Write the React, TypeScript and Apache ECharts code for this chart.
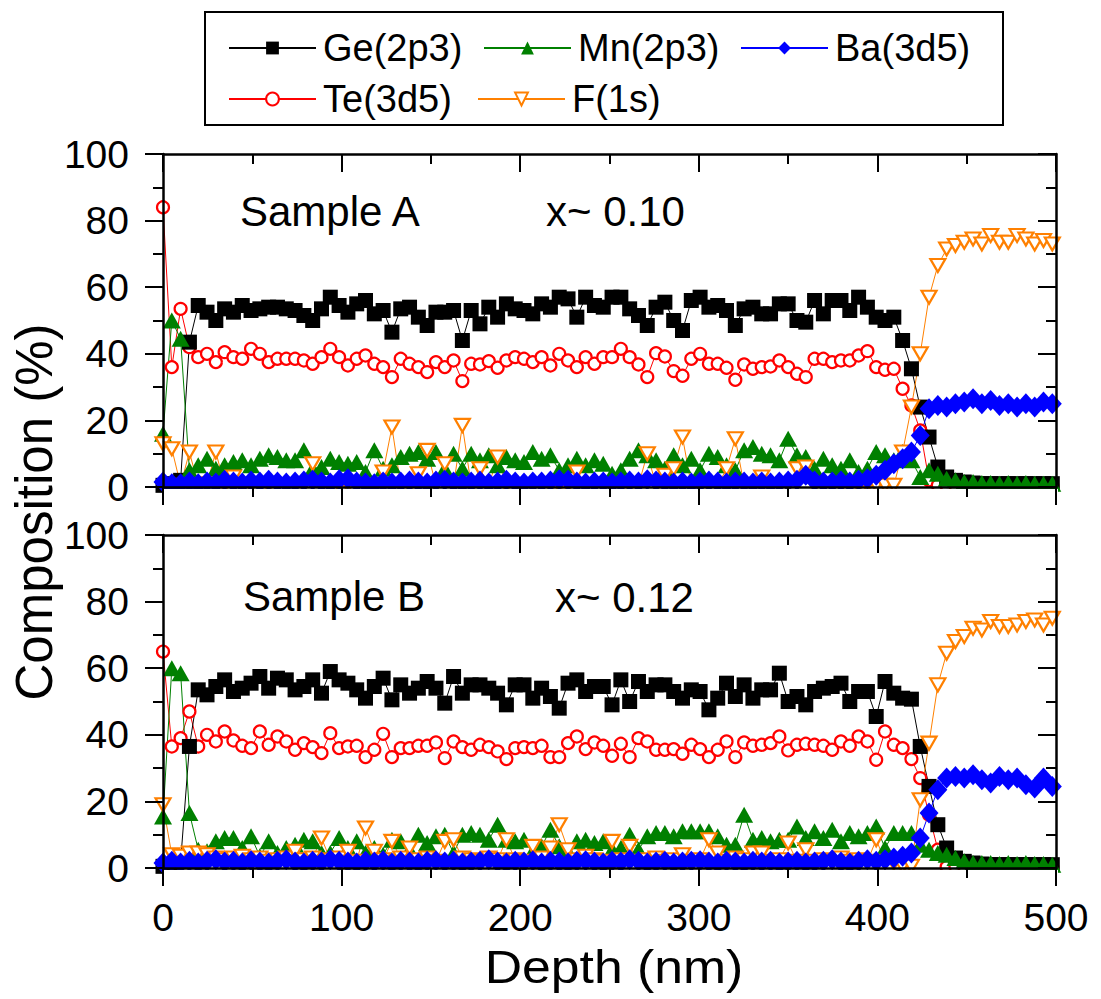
import React, { useEffect, useRef } from "react";
import * as echarts from "echarts";

const FONT = "'Liberation Sans', Arial, sans-serif";

// depth grid (nm): 102 sputter steps of ~4.93 nm
const DEPTH_STEP = 4.93;
const N_POINTS = 102;
const depth: number[] = Array.from({ length: N_POINTS }, (_, i) => +(i * DEPTH_STEP).toFixed(2));

const xTicks = [0, 100, 200, 300, 400, 500];
const yTicks = [0, 20, 40, 60, 80, 100];

const seriesNames = ["Ge(2p3)", "Mn(2p3)", "Ba(3d5)", "Te(3d5)", "F(1s)"];
// drawing order (later = on top): Te, Ge, Mn, F, Ba
const drawOrder = [3, 0, 1, 4, 2];

// ---------- Sample A (x ~ 0.10) ----------
const GE_A = [0.5, 1, 2, 43.5, 54.5, 52.5, 50, 53.5, 52.5, 54.5,
  53, 53.5, 54, 54, 53.5, 53, 51.5, 50, 53.5, 57,
  54.5, 52.5, 55, 56, 52, 53, 46.5, 53.5, 54, 51,
  48.5, 52.5, 52.5, 53, 44, 53, 49, 54, 51, 55,
  53.5, 53, 52, 55, 54, 57, 56.5, 51, 57, 54.5,
  54, 57, 57, 53.5, 51.5, 48.5, 54, 55.5, 50, 47,
  56, 57, 54, 54.5, 53, 48.5, 53.5, 54, 52, 52,
  55, 55, 50, 49.5, 56, 52, 56, 56, 53, 57,
  54, 51, 50, 51, 44, 35.5, 24, 15, 6, 3,
  2, 1.5, 1.2, 1, 1, 1, 1, 1, 1, 1,
  1, 1];
const MN_A = [16, 50, 44.5, 5, 6.5, 8.5, 5.5, 6.5, 7.5, 8,
  6.5, 8.5, 9.5, 9, 8, 8, 11, 5.5, 6, 8.5,
  7.5, 7, 7.5, 4.5, 11, 5.5, 6.5, 9, 10, 10.5,
  8.5, 10.5, 5.5, 10, 5.5, 10, 8, 9.5, 6.5, 9,
  8, 7.5, 10.5, 8.5, 9.5, 5, 6.5, 8.5, 6.5, 8,
  7, 4, 5, 8.5, 11, 9.5, 8, 5.5, 9.5, 6.5,
  8.5, 5, 10, 9, 6.5, 5, 11, 12, 10, 9.5,
  8, 14.5, 9.5, 9, 5.5, 8.5, 6.5, 5.5, 8, 4.5,
  5.5, 10.5, 9.5, 8, 10.5, 8, 3, 5, 4, 2.5,
  2, 1.5, 1.5, 1.2, 1.2, 1, 1.2, 1, 1.2, 1,
  1, 1];
const BA_A = [1.5, 1, 1, 1.5, 1, 1.5, 1.2, 2, 1.5, 1.2,
  1.8, 1.5, 2, 1.5, 1.2, 1.5, 1.8, 2, 1.5, 1.2,
  2.2, 2.5, 1.5, 1.2, 1, 1.5, 1.2, 1.5, 1.8, 1.5,
  1.2, 1.8, 2, 1.5, 1.2, 1.5, 1.8, 1.2, 1.5, 2,
  1.5, 1.2, 1.5, 1.5, 1.8, 2.2, 2, 1.5, 1.2, 1.5,
  1.5, 1.2, 1.5, 1.8, 1.5, 2.2, 1.8, 1.5, 1.2, 1.5,
  1.2, 1.5, 1.8, 1.5, 1.2, 1.5, 1.5, 1.2, 1.5, 1.2,
  1.5, 1.8, 2, 3.5, 1.8, 1.5, 1.5, 1.8, 1.5, 2,
  2.5, 3.5, 5, 7, 8.5, 10.5, 15.5, 23.5, 24.5, 24,
  25, 25.5, 26.5, 25, 26, 24.5, 25, 24, 25, 24,
  25.5, 25];
const TE_A = [84, 36, 53.5, 42, 39, 40, 37.5, 40.5, 39, 38.5,
  41.5, 40, 37.5, 38.5, 38.5, 38.5, 38, 37, 39, 41.5,
  39, 36.5, 38.5, 39.5, 37, 36, 33, 38.5, 37, 36,
  34.5, 37.5, 36, 38, 31.8, 37, 36.8, 37.8, 35.8, 38,
  39, 38.5, 37.5, 39, 36.5, 40, 38, 36, 39, 37,
  39, 39, 41.5, 39, 36.8, 33, 40.2, 39.2, 34.8, 33.4,
  38.5, 40, 37, 37, 35.8, 32.2, 36.8, 35.5, 36, 36.2,
  38, 36, 34, 33, 38.5, 38.5, 37.5, 38, 38, 39.5,
  40.8, 36, 35.2, 35.5, 29.5, 24.5, 17, 2, 0.5, 0.3,
  0.3, 0.3, 0.3, 0.3, 0.3, 0.3, 0.3, 0.3, 0.3, 0.3,
  0.3, 0.3];
const F_A = [13, 11.5, 0.5, 10.5, 0.5, 1, 10.5, 0.5, 3, 0.5,
  0.5, 0.5, 0.5, 0.5, 0.5, 0.5, 0.5, 7, 0.5, 0.5,
  0.5, 0.5, 0.5, 0.5, 0.5, 4.5, 18, 0.5, 0.5, 4,
  11, 0.5, 7, 0.5, 18.5, 0.5, 5.5, 0.5, 9, 0.5,
  0.5, 0.5, 0.5, 0.5, 0.5, 0.5, 0.5, 4.5, 0.5, 0.5,
  0.5, 0.5, 0.5, 0.5, 0.5, 10, 0.5, 3.5, 5.5, 15,
  0.5, 0.5, 0.5, 0.5, 5.5, 14.5, 0.5, 0.5, 3, 0.5,
  0.5, 0.5, 5.5, 6, 0.5, 0.5, 0.5, 0.5, 0.5, 0.5,
  0.5, 0.5, 0.5, 0.5, 10.5, 24, 40, 57, 66.5, 71.5,
  72.5, 73.5, 74.5, 73, 75.5, 73.5, 73.5, 75.5, 74.5, 73,
  74, 73];

// ---------- Sample B (x ~ 0.12) ----------
const GE_B = [0.5, 1, 2, 36.5, 53.5, 52, 54.5, 56.5, 53, 54,
  55.5, 57.5, 54, 57, 56.5, 53.5, 54.5, 56.5, 52.5, 59,
  56.5, 55.5, 53.5, 51, 54.5, 57, 50.5, 55, 52.5, 54,
  56, 54, 49.5, 57.5, 52.5, 55, 55, 54, 52.5, 49,
  55, 55, 51, 54, 51.5, 48, 55.5, 56.5, 53, 54.5,
  54.5, 49, 56.5, 50, 56, 53, 55, 55, 53, 51,
  53.5, 53, 47.5, 51, 55.5, 51.5, 55, 51, 53.5, 53.5,
  58.5, 50, 51.5, 49, 53, 54, 54.5, 55.5, 50, 53,
  53, 45.5, 56, 52.5, 51, 50.7, 36.5, 24.5, 13, 6,
  3, 2, 1.5, 1.2, 1, 1, 1, 1, 1, 1,
  1, 1];
const MN_B = [15.5, 60, 58.5, 16.5, 5.5, 5, 8, 9, 9, 6,
  9.5, 3.5, 8, 4.5, 6, 7, 8.5, 8, 4.5, 4.5,
  9, 6, 8, 4.5, 6, 4, 8.5, 8, 5.5, 10,
  7.5, 9.5, 10, 4.5, 10, 10.5, 10, 8.5, 13, 8.5,
  8, 8.5, 5, 6.5, 11.5, 6.5, 5, 8, 8.5, 7.5,
  8, 5.5, 6, 10, 5.5, 9.5, 10.5, 10.5, 9.5, 11,
  11, 11, 11, 9.5, 7, 7, 16, 8.5, 9, 8,
  8.5, 8.5, 12.5, 9, 11, 9, 11.5, 8, 10.5, 9.5,
  10.5, 12.5, 6, 10.5, 10.5, 10.5, 7, 5.5, 4.5, 4,
  3, 2, 1.5, 1.5, 1.5, 1.2, 1.5, 1.2, 1.5, 1.2,
  1.2, 1];
const BA_B = [1.5, 2, 1.5, 2, 1.5, 2, 2.5, 1.8, 2, 1.5,
  2.2, 1.8, 1.5, 2, 2.5, 1.8, 1.5, 2, 1.8, 2.5,
  2, 1.8, 1.5, 2, 1.8, 2.2, 1.5, 2, 1.8, 1.5,
  2, 2.2, 1.8, 2, 1.5, 1.8, 2, 2.5, 1.8, 1.5,
  2, 1.8, 2.2, 1.5, 2, 1.8, 1.5, 2, 2.2, 1.8,
  1.5, 2, 1.8, 2.5, 2, 1.5, 1.8, 2, 1.5, 1.8,
  2, 2.2, 1.8, 1.5, 2, 1.8, 1.5, 2, 1.8, 2,
  1.5, 1.8, 2, 1.5, 1.8, 2, 2.5, 1.8, 1.5, 2,
  2.5, 2, 2.5, 3, 3.5, 4.5, 9, 16.5, 23.5, 27,
  27.5, 27, 28, 26.5, 25.5, 27.5, 26.5, 27, 25, 24,
  27, 24.5];
const TE_B = [65, 36.5, 39, 47, 36.5, 40, 38, 41, 38.3, 36.7,
  36, 41, 37, 39.5, 38, 35.5, 37.5, 36.3, 34.5, 40.5,
  36, 36.5, 36.7, 33.3, 35.5, 40.3, 33.3, 36, 36, 36.7,
  36.7, 37.7, 33, 38, 36.3, 35.5, 37, 36.3, 35, 32.7,
  36, 36.3, 36, 36.7, 33.3, 33.3, 37.5, 39.5, 35.7, 37.7,
  36.7, 33.7, 37.3, 33.3, 39, 38, 35.5, 35.5, 35.7, 34.3,
  37, 35.7, 33.3, 35.5, 38, 33.3, 37.7, 36.7, 37, 37.5,
  39.5, 35.3, 37, 37.3, 37, 36.7, 35.5, 38, 36.7, 39.5,
  38, 32.5, 41, 37, 36, 32.7, 27, 16, 5.5, 0.3,
  0.3, 0.3, 0.3, 0.3, 0.3, 0.3, 0.3, 0.3, 0.3, 0.3,
  0.3, 0.3];
const F_B = [19, 4, 3.5, 4.5, 4.5, 4, 3, 2.5, 3, 3.5,
  2.5, 3, 2, 2.5, 3, 5, 2.5, 3, 9, 2.5,
  3, 5, 2, 12, 5, 2.5, 8, 3, 6, 2.5,
  3, 2, 8, 8.5, 3, 2.5, 2, 3, 2.5, 8.5,
  2.5, 2, 6.5, 3, 6, 13, 5.5, 2.5, 3.5, 2.5,
  2, 8, 2.5, 6.5, 2, 2.5, 3, 2, 2.5, 4,
  2, 2.5, 8.5, 4.5, 2, 3, 2.5, 4.5, 4.5, 2,
  2.5, 7.5, 2, 5.5, 2, 2.5, 2, 3, 2, 2.5,
  2, 8.5, 2, 1.5, 0.5, 0.5, 20.5, 37.5, 55, 64.5,
  68, 69.5, 72, 71.5, 74, 72.5, 72.5, 73, 74, 74.5,
  73, 75];

const panelA = [GE_A, MN_A, BA_A, TE_A, F_A];
const panelB = [GE_B, MN_B, BA_B, TE_B, F_B];
const panelLabels = [["Sample A", "x~ 0.10"], ["Sample B", "x~ 0.12"]];

// ---------- styles ----------
const DOWN_TRI = "path://M0,0 L20,0 L10,17 Z";
const styles = [
  { color: "#000000", symbol: "rect", size: 15, item: { color: "#000000" } },
  { color: "#008000", symbol: "triangle", size: [18, 16], item: { color: "#008000" } },
  { color: "#0000ff", symbol: "diamond", size: [19, 21], item: { color: "#0000ff" } },
  { color: "#ff0000", symbol: "circle", size: 12, item: { color: "#ffffff", borderColor: "#ff0000", borderWidth: 2.2 } },
  { color: "#ff8000", symbol: DOWN_TRI, size: [15, 13], item: { color: "#ffffff", borderColor: "#ff8000", borderWidth: 2.2 } },
];

const GRID_LEFT = 163;
const GRID_W = 893;
const GRID_H = 333;
const GRID_TOPS = [154, 535];

const AX_W = 2.5;
const TICK_W = 2;

function xAxisDef(g: number, pos: "bottom" | "top") {
  const outer = pos === "bottom";
  return {
    type: "value",
    gridIndex: g,
    position: pos,
    min: xTicks[0],
    max: xTicks[xTicks.length - 1],
    interval: 100,
    z: 10,
    axisLine: { show: true, onZero: false, lineStyle: { color: "#000", width: AX_W } },
    axisTick: { show: true, inside: !outer, length: 18, lineStyle: { color: "#000", width: TICK_W } },
    minorTick: { show: true, splitNumber: 2, length: 10, lineStyle: { color: "#000", width: TICK_W } },
    splitLine: { show: false },
    minorSplitLine: { show: false },
    axisLabel: {
      show: outer && g === 1,
      fontSize: 39,
      fontFamily: FONT,
      color: "#000",
      margin: 30,
    },
  };
}

function yAxisDef(g: number, pos: "left" | "right") {
  const outer = pos === "left";
  return {
    type: "value",
    gridIndex: g,
    position: pos,
    min: yTicks[0],
    max: yTicks[yTicks.length - 1],
    interval: 20,
    z: 10,
    axisLine: { show: true, onZero: false, lineStyle: { color: "#000", width: AX_W } },
    axisTick: { show: true, inside: !outer, length: 18, lineStyle: { color: "#000", width: TICK_W } },
    minorTick: { show: true, splitNumber: 2, length: 10, lineStyle: { color: "#000", width: TICK_W } },
    splitLine: { show: false },
    minorSplitLine: { show: false },
    axisLabel: { show: outer, fontSize: 39, fontFamily: FONT, color: "#000", margin: 34 },
  };
}

export default function App() {
  const ref = useRef<HTMLDivElement>(null);

  useEffect(() => {
    if (!ref.current) return;
    const chart = echarts.init(ref.current, undefined, { renderer: "svg" });

    const series: any[] = [];
    [panelA, panelB].forEach((panel, g) => {
      drawOrder.forEach((k) => {
        const vals = panel[k];
        const st = styles[k];
        series.push({
          type: "line",
          name: seriesNames[k],
          xAxisIndex: g * 2,
          yAxisIndex: g * 2,
          data: depth.map((d, i) => [d, vals[i]]),
          symbol: st.symbol,
          symbolSize: st.size,
          showAllSymbol: true,
          itemStyle: st.item,
          lineStyle: { color: st.color, width: 1 },
          silent: true,
          emphasis: { disabled: true },
        });
      });
    });

    const legendPos = [
      { name: seriesNames[0], left: 228, top: 29 },
      { name: seriesNames[1], left: 483, top: 29 },
      { name: seriesNames[2], left: 740, top: 29 },
      { name: seriesNames[3], left: 228, top: 80 },
      { name: seriesNames[4], left: 477, top: 80 },
    ];

    const legends = legendPos.map((l) => ({
      data: [l.name],
      left: l.left,
      top: l.top,
      orient: "horizontal",
      padding: 0,
      itemWidth: 87,
      itemHeight: 16,
      itemGap: 0,
      selectedMode: false,
      textStyle: { fontSize: 38, fontFamily: FONT, color: "#000", padding: [0, 0, 0, 2] },
    }));

    const graphics: any[] = [
      // white covers to clip markers overflowing below panel frames
      { type: "rect", z: 5, silent: true, shape: { x: 164, y: 489, width: 894, height: 44 }, style: { fill: "#fff" } },
      { type: "rect", z: 5, silent: true, shape: { x: 164, y: 870, width: 894, height: 28 }, style: { fill: "#fff" } },
      // legend frame
      { type: "rect", z: 6, silent: true, shape: { x: 205, y: 12, width: 798, height: 113 }, style: { fill: "none", stroke: "#000", lineWidth: 2 } },
      // axis titles
      {
        type: "text", z: 6, x: 614, y: 966, scaleX: 1.1,
        style: { text: "Depth (nm)", fontSize: 47, fontFamily: FONT, fill: "#000", align: "center", verticalAlign: "middle" },
      },
      {
        type: "text", z: 6, x: 34, y: 512, rotation: Math.PI / 2,
        style: { text: "Composition (%)", fontSize: 51, fontFamily: FONT, fill: "#000", align: "center", verticalAlign: "middle" },
      },
      // panel annotations
      { type: "text", z: 6, x: 240, y: 211, style: { text: panelLabels[0][0], fontSize: 42, fontFamily: FONT, fill: "#000", align: "left", verticalAlign: "middle" } },
      { type: "text", z: 6, x: 546, y: 211, style: { text: panelLabels[0][1], fontSize: 42, fontFamily: FONT, fill: "#000", align: "left", verticalAlign: "middle" } },
      { type: "text", z: 6, x: 243, y: 596, style: { text: panelLabels[1][0], fontSize: 42, fontFamily: FONT, fill: "#000", align: "left", verticalAlign: "middle" } },
      { type: "text", z: 6, x: 555, y: 597, style: { text: panelLabels[1][1], fontSize: 42, fontFamily: FONT, fill: "#000", align: "left", verticalAlign: "middle" } },
    ];

    chart.setOption({
      animation: false,
      backgroundColor: "#ffffff",
      textStyle: { fontFamily: FONT },
      grid: GRID_TOPS.map((t) => ({ left: GRID_LEFT, top: t, width: GRID_W, height: GRID_H, containLabel: false })),
      xAxis: [xAxisDef(0, "bottom"), xAxisDef(0, "top"), xAxisDef(1, "bottom"), xAxisDef(1, "top")],
      yAxis: [yAxisDef(0, "left"), yAxisDef(0, "right"), yAxisDef(1, "left"), yAxisDef(1, "right")],
      legend: legends,
      series,
      graphic: graphics,
    });

    return () => chart.dispose();
  }, []);

  return (
    <div
      ref={ref}
      style={{ position: "absolute", left: 0, top: 0, width: 1101, height: 999, background: "#fff" }}
    />
  );
}
